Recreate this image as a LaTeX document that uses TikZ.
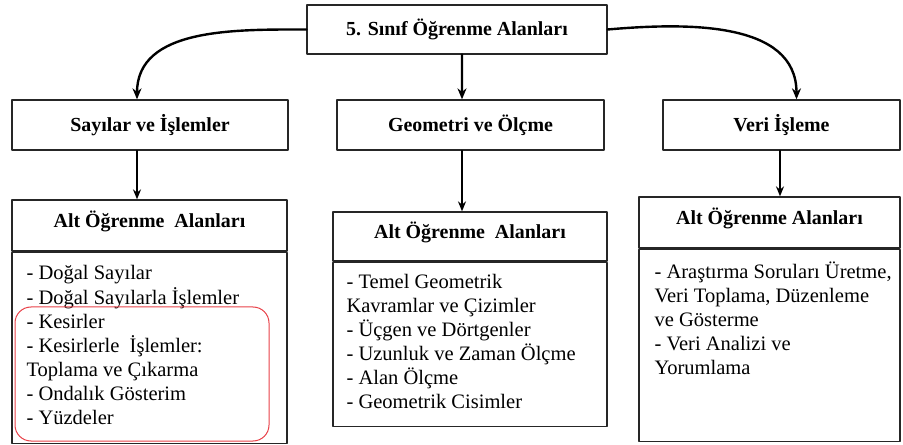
\documentclass[tikz,border=0pt]{standalone}
\usepackage{fontspec}
\setmainfont{Liberation Serif}
\usetikzlibrary{arrows.meta,positioning}
\definecolor{kirmizi}{RGB}{232,64,72}
\tikzset{
	kutu/.style={draw=black!85,line width=1.3bp,minimum height=50bp,inner sep=0pt,font=\fontsize{20}{24}\selectfont\bfseries},
	baslik/.style={kutu,text height=14bp,text depth=10bp},
	govde/.style={draw=black!85,line width=1.3bp,inner sep=0pt,anchor=north},
	liste/.style={align=left,inner sep=0pt,font=\fontsize{20.6}{24}\selectfont},
	kalinok/.style={-{Stealth[length=11bp,width=9bp]},line width=2.4bp},
	ok/.style={-{Stealth[length=10bp,width=8bp]},line width=1.3bp}
}
\begin{document}
\begin{tikzpicture}[x=1bp,y=-1bp,line join=round,line cap=round]
				\useasboundingbox (0,0) rectangle (903,445);
				\node[kutu,minimum width=300bp,minimum height=49bp] (ana) at (457,29.5) {5. Sınıf Öğrenme Alanları};
				\node[kutu,minimum width=276bp] (sayi) at (150,125) {Sayılar ve İşlemler};
				\node[kutu,minimum width=267bp] (geo) at (470.5,125) {Geometri ve Ölçme};
				\node[kutu,minimum width=237bp] (veri) at (781.5,125) {Veri İşleme};
				
				\node[baslik,minimum width=275bp,minimum height=51bp] (sayiB) at (149.5,225.5) {Alt Öğrenme\ \ Alanları};
				\node[baslik,minimum width=274bp,minimum height=49bp] (geoB) at (470,236.5) {Alt Öğrenme\ \ Alanları};
				\node[baslik,minimum width=261bp,minimum height=51bp] (veriB) at (769.5,222.5) {Alt Öğrenme Alanları};
				
				\node[govde,minimum width=275bp,minimum height=191bp] (sayiG) at (sayiB.south) {};
				\node[govde,minimum width=274bp,minimum height=164bp] (geoG) at (geoB.south) {};
				\node[govde,minimum width=261bp,minimum height=192bp] (veriG) at (veriB.south) {};
				
				\node[liste,below right=11bp and 15bp of sayiG.north west] (sayiL) {\strut- Doğal Sayılar\\- Doğal Sayılarla İşlemler\\- Kesirler\\- Kesirlerle\ \ İşlemler:\\Toplama ve Çıkarma\\- Ondalık Gösterim\\- Yüzdeler};
				\node[liste,below right=10bp and 14bp of geoG.north west] (geoL) {\strut- Temel Geometrik\\Kavramlar ve Çizimler\\- Üçgen ve Dörtgenler\\- Uzunluk ve Zaman Ölçme\\- Alan Ölçme\\- Geometrik Cisimler};
				\node[liste,below right=13bp and 16bp of veriG.north west] (veriL) {\strut- Araştırma Soruları Üretme,\\Veri Toplama, Düzenleme\\ve Gösterme\\- Veri\ Analizi ve\\Yorumlama};
				
				\draw[kalinok] (ana.west) to[out=180,in=90] ([xshift=-13bp]sayi.north);
				\draw[kalinok] ([xshift=5bp]ana.south) -- ([xshift=-8.5bp]geo.north);
				\draw[kalinok] (ana.east) to[out=5,in=90] ([xshift=15bp]veri.north);
				
				\draw[ok] ([xshift=-13bp]sayi.south) -- ([xshift=-13bp]sayi.south |- sayiB.north);
				\draw[ok] ([xshift=-8.5bp]geo.south) -- ([xshift=-8.5bp]geo.south |- geoB.north);
				\draw[ok] ([xshift=-1.5bp]veri.south) -- ([xshift=-1.5bp]veri.south |- veriB.north);
				
				\draw[kirmizi,line width=1bp,rounded corners=16bp] (15,307) rectangle (269,441);
\end{tikzpicture}
\end{document}
